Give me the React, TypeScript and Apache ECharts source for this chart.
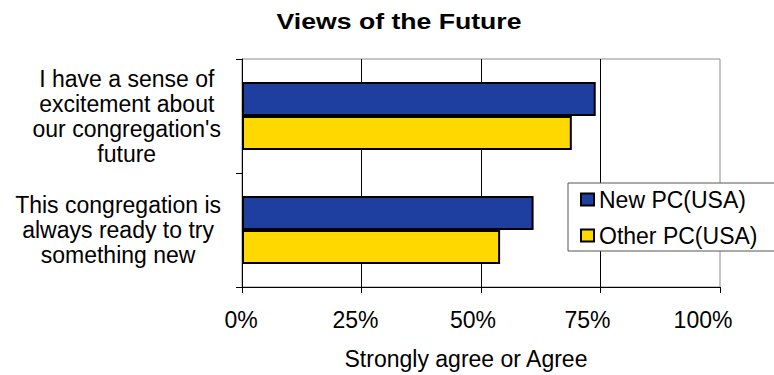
import React, { useEffect, useRef } from "react";
import * as echarts from "echarts";

const chartTitle = "Views of the Future";
const categories = [
  "I have a sense of\nexcitement about\nour congregation's\nfuture",
  "This congregation is\nalways ready to try\nsomething new",
];
const seriesNames = ["New PC(USA)", "Other PC(USA)"];
const newPCValues = [74, 61];
const otherPCValues = [69, 54];
const xTickValues = [0, 25, 50, 75, 100];
const xAxisName = "Strongly agree or Agree";

const FONT = '"Liberation Sans", Arial, Helvetica, sans-serif';

export default function App() {
  const ref = useRef<HTMLDivElement>(null);

  useEffect(() => {
    document.body.style.margin = "0";
    if (!ref.current) return;
    const chart = echarts.init(ref.current, null, { renderer: "svg" });

    const xShift: Record<number, number> = { 0: 2, 25: 12, 50: 16, 75: 26, 100: 34 };
    const xRich: Record<string, any> = {};
    xTickValues.forEach((v) => {
      xRich["t" + v] = {
        fontSize: 23,
        fontFamily: FONT,
        color: "#000",
        padding: [0, xShift[v] || 0, 0, 0],
      };
    });

    chart.setOption({
      animation: false,
      backgroundColor: "#fff",
      graphic: [
        {
          type: "text",
          x: 399,
          y: 21,
          scaleX: 1.21,
          style: {
            text: chartTitle,
            font: `bold 22px ${FONT}`,
            fill: "#000",
            textAlign: "center",
            textVerticalAlign: "middle",
          },
        },
      ],
      grid: {
        left: 242,
        right: 54,
        top: 59,
        bottom: 82,
        show: true,
        borderColor: "#8c8c8c",
        borderWidth: 1,
        backgroundColor: "transparent",
      },
      legend: {
        orient: "vertical",
        left: 568,
        top: 183,
        padding: [5, 18, 4, 12],
        itemGap: 13,
        itemWidth: 13,
        itemHeight: 12,
        icon: "rect",
        backgroundColor: "#fff",
        borderColor: "#555",
        borderWidth: 1,
        borderRadius: 0,
        textStyle: { fontSize: 23, lineHeight: 23, fontFamily: FONT, color: "#000" },
        data: seriesNames,
      },
      xAxis: {
        type: "value",
        min: 0,
        max: 100,
        interval: 25,
        axisLine: { show: true, lineStyle: { color: "#000", width: 1 } },
        axisTick: { show: true, inside: false, length: 6, lineStyle: { color: "#000" } },
        splitLine: { show: true, showMaxLine: false, lineStyle: { color: "#000", width: 1 } },
        axisLabel: {
          margin: 21,
          fontSize: 23,
          fontFamily: FONT,
          color: "#000",
          formatter: (v: number) => `{t${v}|${v}%}`,
          rich: xRich,
        },
        name: xAxisName,
        nameLocation: "middle",
        nameGap: 60,
        nameTextStyle: {
          fontSize: 23,
          fontFamily: FONT,
          color: "#000",
          padding: [0, 30, 0, 0],
        },
      },
      yAxis: {
        type: "category",
        inverse: true,
        data: categories,
        axisLine: { show: true, lineStyle: { color: "#000", width: 1 } },
        axisTick: { show: true, inside: false, length: 6, alignWithLabel: false, lineStyle: { color: "#000" } },
        splitLine: { show: false },
        axisLabel: {
          margin: 21,
          align: "right",
          color: "#000",
          fontSize: 23,
          fontFamily: FONT,
          lineHeight: 25,
          formatter: (v: string) =>
            v
              .split("\n")
              .map((line) => `{c|${line}}`)
              .join("\n"),
          rich: {
            c: {
              align: "center",
              fontSize: 23,
              lineHeight: 25,
              fontFamily: FONT,
              color: "#000",
            },
          },
        },
      },
      series: [
        {
          name: seriesNames[0],
          type: "bar",
          data: newPCValues,
          barWidth: 34,
          barGap: "0%",
          itemStyle: { color: "#1f3fa0", borderColor: "#000", borderWidth: 2 },
        },
        {
          name: seriesNames[1],
          type: "bar",
          data: otherPCValues,
          barWidth: 34,
          barGap: "0%",
          itemStyle: { color: "#ffd800", borderColor: "#000", borderWidth: 2 },
        },
      ],
    });

    return () => {
      chart.dispose();
    };
  }, []);

  return <div ref={ref} style={{ width: 774, height: 375 }} />;
}
